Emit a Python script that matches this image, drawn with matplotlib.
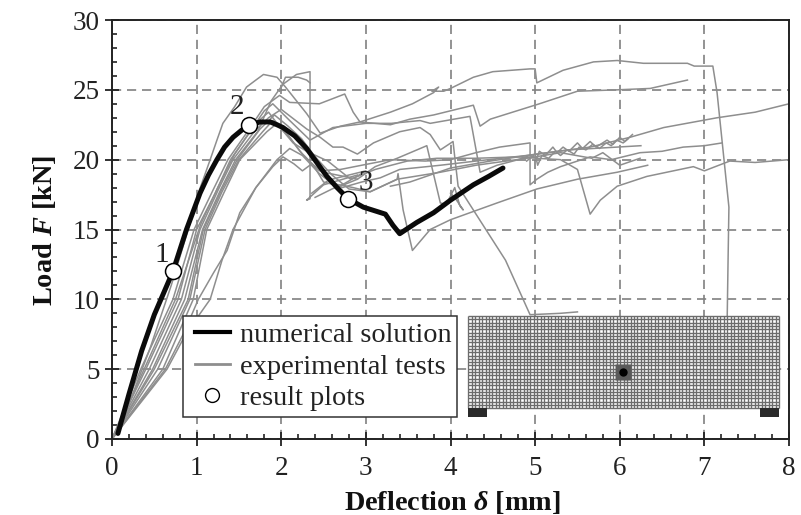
import numpy as np
import matplotlib
matplotlib.use('Agg')
import matplotlib.pyplot as plt
from matplotlib.lines import Line2D
from matplotlib.legend_handler import HandlerLine2D
from matplotlib.ticker import MultipleLocator

plt.rcParams['font.family'] = ['Liberation Serif', 'DejaVu Serif']
plt.rcParams['mathtext.fontset'] = 'custom'
plt.rcParams['mathtext.rm'] = 'Liberation Serif:bold'
plt.rcParams['mathtext.it'] = 'Liberation Serif:italic:bold'
plt.rcParams['mathtext.bf'] = 'Liberation Serif:bold'

# numerical solution
num_x = [0.07, 0.2, 0.35, 0.5, 0.72, 0.88, 1.04, 1.14, 1.24, 1.33, 1.43, 1.53, 1.63, 1.75, 1.87, 1.95, 2.02, 2.16,
         2.3, 2.42, 2.54, 2.66, 2.79, 2.97, 3.23, 3.32, 3.4, 3.6, 3.8, 4.0, 4.27, 4.45, 4.62]
num_y = [0.4, 3.2, 6.3, 8.9, 12.0, 15.0, 17.6, 18.9, 20.0, 20.9, 21.6, 22.1, 22.5, 22.7, 22.7, 22.5, 22.3, 21.7,
         20.8, 19.8, 18.8, 18.0, 17.2, 16.6, 16.1, 15.3, 14.7, 15.5, 16.2, 17.1, 18.2, 18.8, 19.4]

# result plots
res_x = [0.72, 1.62, 2.79]
res_y = [12.0, 22.5, 17.2]
res_labels = ['1', '2', '3']

# experimental tests, each one traced by eye
t1_x = [0, 0.2, 0.45, 0.7, 0.95, 1.02, 1.16, 1.24, 1.31, 1.45, 1.59, 1.7, 1.79, 1.87, 1.95, 2.05, 2.3, 2.46, 2.7, 2.93,
        3.29, 3.55, 3.8, 3.86, 3.78, 3.92, 4.0, 4.27, 4.5, 4.94, 5.0, 5.02, 5.33, 5.69, 5.97, 6.28, 6.8, 6.88, 7.1,
        7.15, 7.22, 7.29, 7.28, 7.27]
t1_y = [0, 2.5, 6.5, 11.0, 16.0, 17.6, 20.0, 21.4, 22.6, 23.8, 25.2, 25.7, 26.1, 26.0, 25.9, 25.2, 23.3, 21.9, 22.4,
        22.7, 23.4, 24.0, 24.8, 25.2, 24.9, 24.9, 25.1, 25.9, 26.3, 26.5, 26.5, 25.5, 26.4, 27.0, 27.1, 26.9, 26.9,
        26.7, 26.7, 24.8, 20.7, 16.6, 12.8, 8.8]
t2_x = [0, 0.34, 0.72, 0.97, 1.2, 1.37, 1.6, 1.8, 1.98, 2.1, 2.45, 2.75, 2.85, 2.93, 3.29, 3.52, 3.8, 4.27, 4.35, 4.47,
        5.05, 5.5, 5.97, 6.36, 6.8]
t2_y = [0, 5.0, 10.0, 15.0, 17.9, 20.0, 22.0, 23.8, 24.6, 24.1, 24.0, 24.7, 23.4, 22.7, 22.5, 22.9, 23.2, 23.9, 22.4,
        22.9, 24.0, 24.9, 25.0, 25.1, 25.7]
t3_x = [0, 0.4, 0.78, 1.0, 1.22, 1.4, 1.63, 1.8, 1.9, 2.1, 2.34, 2.61, 3.0, 3.3, 3.64, 3.76, 4.23, 4.35, 4.55, 4.8,
        4.94, 5.02, 5.05, 5.12, 5.21, 5.26, 5.33, 5.4, 5.5, 5.56, 5.65, 5.72, 5.85, 5.92, 6.0, 6.06, 6.15]
t3_y = [0, 5.0, 10.0, 15.0, 17.6, 20.0, 22.0, 23.5, 24.0, 22.8, 21.4, 22.3, 22.6, 22.6, 22.8, 22.6, 23.1, 19.1, 19.6,
        20.0, 20.3, 20.1, 20.6, 20.3, 20.9, 20.5, 20.9, 20.6, 21.2, 20.8, 21.3, 20.9, 21.4, 21.1, 21.6, 21.3, 21.8]
t4_x = [0, 0.44, 0.82, 1.04, 1.26, 1.43, 1.68, 1.85, 2.0, 2.15, 2.3, 2.46, 2.61, 2.73, 2.9, 3.09, 3.4, 3.64, 3.76, 3.88,
        4.03, 4.05, 4.09, 4.65, 4.94, 5.3, 5.5]
t4_y = [0, 5.0, 10.0, 15.0, 17.9, 20.0, 22.0, 23.0, 23.6, 22.9, 22.2, 21.6, 20.9, 20.9, 20.4, 21.2, 22.0, 22.3, 21.8,
        20.7, 21.3, 20.2, 18.1, 12.8, 8.9, 9.0, 9.1]
t5_x = [0, 0.63, 0.85, 1.02, 1.2, 1.36, 1.51, 1.7, 1.9, 2.02, 2.15, 2.25, 2.36, 2.5, 2.9]
t5_y = [0, 5.0, 7.6, 10.0, 11.9, 13.5, 16.2, 18.0, 19.5, 20.2, 19.7, 19.2, 19.7, 19.1, 18.6]
t6_x = [0, 0.65, 0.88, 1.16, 1.3, 1.43, 1.7, 1.95, 2.1, 2.25, 2.45, 2.6, 2.85, 3.05, 3.37, 3.38, 3.44, 3.55, 3.76, 4.0,
        4.55, 5.02, 5.5, 5.97, 6.33]
t6_y = [0, 5.0, 7.6, 10.0, 12.8, 15.0, 18.0, 20.0, 20.8, 20.3, 19.0, 18.3, 18.0, 17.7, 18.6, 19.0, 16.4, 13.5, 15.0,
        15.7, 16.9, 17.9, 18.6, 19.1, 19.6]
t7_x = [0, 0.48, 0.86, 1.07, 1.28, 1.46, 1.72, 1.88, 2.02, 2.18, 2.34, 2.34, 2.3, 2.5, 2.9]
t7_y = [0, 5.0, 10.0, 15.0, 17.8, 20.0, 22.0, 24.2, 25.4, 26.1, 26.3, 17.2, 17.1, 18.2, 18.9]
t7b_x = [1.98, 2.05, 2.2, 2.3, 2.34]
t7b_y = [24.9, 25.9, 25.9, 25.7, 25.5]
t8_x = [0, 0.54, 0.92, 1.1, 1.3, 1.5, 1.78, 1.9, 2.05, 2.22, 2.38, 2.5, 2.7, 2.9, 3.11, 3.37, 3.72, 3.88, 3.95, 4.05,
        4.11, 4.15, 4.06, 4.0]
t8_y = [0, 5.0, 10.0, 15.0, 17.7, 20.0, 22.0, 22.8, 22.0, 20.6, 19.6, 18.4, 18.1, 18.6, 19.5, 20.1, 21.0, 16.9, 16.8,
        18.0, 16.7, 16.4, 17.2, 17.6]
t9_x = [0, 0.6, 0.96, 1.12, 1.32, 1.51, 1.83, 1.95, 2.1, 2.25, 2.45, 2.7, 2.95, 3.29, 3.7, 4.0, 4.3, 4.58, 4.94, 4.94,
        5.02, 5.15, 5.3, 5.65, 5.9, 6.24, 6.5, 6.75, 7.0, 7.21]
t9_y = [0, 5.0, 10.0, 15.0, 17.6, 20.0, 22.0, 22.6, 21.6, 20.4, 19.2, 19.3, 19.6, 20.0, 19.9, 20.0, 20.5, 20.9, 21.2,
        18.2, 18.6, 19.1, 19.5, 20.2, 20.0, 20.5, 20.6, 20.9, 21.0, 21.2]
t10_x = [0, 0.38, 0.75, 1.05, 1.25, 1.45, 1.7, 1.85, 2.0, 2.14, 2.3, 2.55, 2.82, 3.11, 3.49, 3.84, 4.3, 4.8, 5.02, 5.3,
         5.5, 5.65, 5.77, 5.97, 6.32, 6.87, 7.0, 7.3, 7.6, 8.0]
t10_y = [0, 5.0, 10.0, 15.4, 18.0, 20.4, 22.6, 23.4, 22.2, 21.2, 20.6, 19.9, 18.6, 19.3, 19.9, 20.1, 20.1, 20.2, 20.1,
         20.0, 19.3, 16.1, 17.1, 18.1, 18.8, 19.5, 19.2, 19.9, 19.8, 20.0]
t11_x = [0, 0.5, 0.9, 1.08, 1.3, 1.48, 1.75, 1.92, 2.08, 2.24, 2.4, 2.6, 2.8, 3.05, 3.37, 3.88, 4.3, 4.9, 5.3, 5.67,
         5.8, 6.0, 6.24]
t11_y = [0, 5.0, 10.0, 15.0, 17.9, 20.0, 22.2, 23.2, 22.4, 21.5, 20.2, 18.9, 17.9, 17.7, 18.6, 19.1, 19.6, 20.1, 20.5,
         20.1, 20.5, 19.6, 20.1]
t12_x = [2.36, 2.55, 2.72, 2.95, 3.17, 3.4, 3.88, 4.3, 4.9, 5.4, 6.25]
t12_y = [17.6, 18.5, 18.0, 18.4, 18.7, 19.3, 19.6, 19.9, 20.3, 20.7, 21.0]
t13_x = [3.29, 3.52, 4.0, 4.47, 5.02, 5.65, 6.12, 6.52, 7.15, 7.6, 8.0]
t13_y = [18.1, 18.4, 19.4, 19.9, 20.4, 20.9, 21.6, 22.3, 23.0, 23.4, 24.0]
t14_x = [2.4, 2.6, 2.75, 2.92, 3.0, 2.8, 2.6]
t14_y = [17.3, 17.9, 18.3, 18.9, 19.2, 18.9, 18.6]
t15_x = [4.9, 5.0, 5.03, 5.08, 5.16, 5.24, 5.3, 5.38, 5.46, 5.52, 5.6, 5.68, 5.76, 5.84, 5.9, 5.96, 6.04, 6.1]
t15_y = [19.9, 20.4, 19.6, 20.3, 20.1, 20.6, 20.3, 20.7, 20.4, 20.9, 20.7, 21.1, 20.8, 21.2, 21.0, 21.4, 21.2, 21.5]
tests = [(t1_x, t1_y), (t2_x, t2_y), (t3_x, t3_y), (t4_x, t4_y), (t5_x, t5_y), (t6_x, t6_y), (t7_x, t7_y),
         (t7b_x, t7b_y), (t8_x, t8_y), (t9_x, t9_y), (t10_x, t10_y), (t11_x, t11_y), (t12_x, t12_y), (t13_x, t13_y),
         (t14_x, t14_y), (t15_x, t15_y)]

x_ticks = [0, 1, 2, 3, 4, 5, 6, 7, 8]
y_ticks = [0, 5, 10, 15, 20, 25, 30]

GRAY = '#8e8e8e'

fig = plt.figure(figsize=(8.01, 5.15), dpi=100)
ax = fig.add_axes([112 / 801, 1 - 439 / 515, 677 / 801, 419 / 515])

ax.set_xlim(0, 8)
ax.set_ylim(0, 30)
ax.set_xticks(x_ticks)
ax.set_yticks(y_ticks)
ax.xaxis.set_minor_locator(MultipleLocator(0.2))
ax.yaxis.set_minor_locator(MultipleLocator(1))
ax.tick_params(which='major', direction='inout', length=10, width=1.3, labelsize=19.5, color='#222222',
               labelcolor='#222222')
ax.tick_params(axis='x', which='major', pad=7)
ax.tick_params(axis='y', which='major', pad=4)
ax.tick_params(which='minor', direction='in', length=3.8, width=1.2, color='#222222')
ax.grid(True, which='major', color='#808080', linestyle=(0, (5.5, 3.5)), linewidth=1.2)
ax.set_axisbelow(True)
for s in ax.spines.values():
    s.set_linewidth(1.4)
    s.set_color('#222222')

for tx, ty in tests:
    ax.plot(tx, ty, color=GRAY, lw=1.1, zorder=2)

ax.plot(num_x, num_y, color='#0a0a0a', lw=3.6, solid_capstyle='round', solid_joinstyle='round', zorder=3)
ax.plot(res_x, res_y, 'o', ms=11.5, mfc='white', mec='black', mew=1.1, zorder=4)

# numbers next to the result plots
for xv, yv, lab, dx, dy in zip(res_x, res_y, res_labels, [-0.13, -0.14, 0.21], [1.2, 1.3, 1.15]):
    ax.text(xv + dx, yv + dy, lab, fontsize=21, ha='center', va='center', color='#222222', zorder=5)

# mesh of the beam
mesh_left, mesh_right, mesh_bottom, mesh_top = 4.21, 7.88, 2.2, 8.8
ax.fill_between([mesh_left, mesh_right], mesh_bottom, mesh_top, color='white', lw=0, zorder=5)
ax.vlines(np.arange(mesh_left, mesh_right + 0.01, 0.0408), mesh_bottom, mesh_top, color='#6c6c6c', lw=0.95, zorder=6)
ax.hlines(np.linspace(mesh_bottom, mesh_top, 29), mesh_left, mesh_right, color='#6c6c6c', lw=1.0, zorder=6)
ax.fill_between([mesh_left, mesh_left + 0.225], 1.58, mesh_bottom, color='#2a2a2a', lw=0, zorder=6)
ax.fill_between([mesh_right - 0.225, mesh_right], 1.58, mesh_bottom, color='#2a2a2a', lw=0, zorder=6)
ax.plot([6.04], [4.8], 's', ms=12, mfc='#5a5a5a', mec='none', zorder=7)
ax.plot([6.04], [4.8], 'o', ms=6, mfc='black', mec='none', zorder=8)

handles = [Line2D([], [], color='black', lw=3),
           Line2D([], [], color=GRAY, lw=2),
           Line2D([], [], color='none', marker='o', ms=10, mfc='white', mec='black', mew=1)]
leg = ax.legend(handles, ['numerical solution', 'experimental tests', 'result plots'],
                handler_map={Line2D: HandlerLine2D(xpad=0.21)},
                loc='lower left', bbox_to_anchor=(71 / 677, 22 / 419), borderaxespad=0,
                fontsize=20.4, fancybox=False, framealpha=1, edgecolor='#333333',
                labelspacing=0.21, handlelength=1.45, handletextpad=0.35, borderpad=0.2)
leg.get_frame().set_linewidth(1.1)
leg.set_zorder(9)
for t in leg.get_texts():
    t.set_color('#222222')

ax.set_xlabel(r'Deflection $\delta$ [mm]', fontsize=20.3, fontweight='bold', va='center', color='#111111')
ax.set_ylabel(r'Load $F$ [kN]', fontsize=20.4, fontweight='bold', va='center', color='#111111')
ax.xaxis.set_label_coords((452 - 112) / 677, -(502 - 439) / 419)
ax.yaxis.set_label_coords((45 - 112) / 677, (439 - 230) / 419)

fig.savefig('out.png', dpi=100)
